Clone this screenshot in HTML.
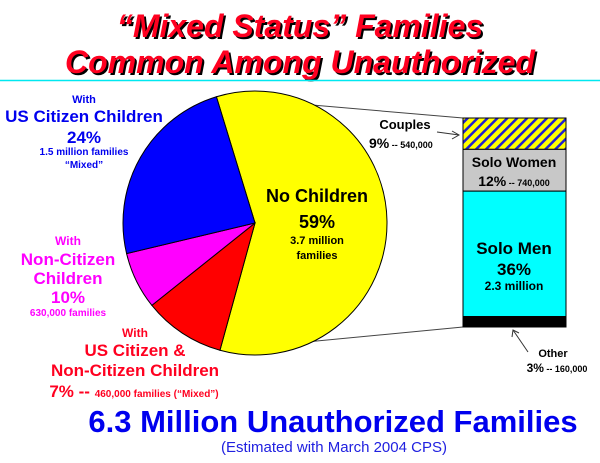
<!DOCTYPE html>
<html><head><meta charset="utf-8"><style>
body{margin:0;background:#fff}
svg{display:block;font-family:"Liberation Sans",Arial,sans-serif;font-weight:bold}
</style></head><body>
<svg width="600" height="463" viewBox="0 0 600 463">
<defs>
<pattern id="hatch" width="7" height="7" patternUnits="userSpaceOnUse" patternTransform="rotate(45)">
<rect width="7" height="7" fill="#ffff00"/><rect width="2.5" height="7" fill="#2020d0"/>
</pattern>
</defs>
<g font-style="italic" font-size="32" text-anchor="middle">
<text x="302" y="39" fill="#000">“Mixed Status” Families</text>
<text x="300" y="37" fill="#ff0020">“Mixed Status” Families</text>
<text x="302" y="75" fill="#000">Common Among Unauthorized</text>
<text x="300" y="73" fill="#ff0020">Common Among Unauthorized</text>
</g>
<line x1="0" y1="80.5" x2="600" y2="80.5" stroke="#00e8f0" stroke-width="1.5"/>
<g id="connectors"></g>
<g id="pie"></g>
<g id="bar"></g>
<g text-anchor="middle">
<g fill="#0000ee">
<text x="84" y="103" font-size="11">With</text>
<text x="84" y="122" font-size="17">US Citizen Children</text>
<text x="84" y="143" font-size="17">24%</text>
<text x="84" y="155" font-size="10">1.5 million families</text>
<text x="84" y="168" font-size="10">“Mixed”</text>
</g>
<g fill="#ff00ff">
<text x="68" y="245" font-size="12">With</text>
<text x="68" y="265" font-size="17">Non-Citizen</text>
<text x="68" y="284" font-size="17">Children</text>
<text x="68" y="303" font-size="17">10%</text>
<text x="68" y="316" font-size="10">630,000 families</text>
</g>
<g fill="#ff0020">
<text x="135" y="337" font-size="12">With</text>
<text x="135" y="356" font-size="17">US Citizen &amp;</text>
<text x="135" y="376" font-size="17">Non-Citizen Children</text>
<text x="134" y="397"><tspan font-size="17">7% -- </tspan><tspan font-size="10">460,000 families (“Mixed”)</tspan></text>
</g>
<g fill="#000">
<text x="317" y="202" font-size="18">No Children</text>
<text x="317" y="228" font-size="18">59%</text>
<text x="317" y="244" font-size="11">3.7 million</text>
<text x="317" y="259" font-size="11">families</text>
</g>
</g>
<g fill="#000">
<text x="405" y="129" font-size="13" text-anchor="middle">Couples</text>
<text x="369" y="148"><tspan font-size="14">9%</tspan><tspan font-size="9"> -- 540,000</tspan></text>
<line x1="437" y1="132" x2="459" y2="135" stroke="#333"/>
<path d="M452,131 L459,135 L452,139" fill="none" stroke="#333"/>
<text x="514" y="167" font-size="14" text-anchor="middle">Solo Women</text>
<text x="514" y="186" text-anchor="middle"><tspan font-size="14">12%</tspan><tspan font-size="9"> -- 740,000</tspan></text>
<text x="514" y="254" font-size="17" text-anchor="middle">Solo Men</text>
<text x="514" y="275" font-size="17" text-anchor="middle">36%</text>
<text x="514" y="290" font-size="12" text-anchor="middle">2.3 million</text>
<line x1="528" y1="352" x2="513" y2="330" stroke="#333"/>
<path d="M512,337 L513,330 L519,333" fill="none" stroke="#333"/>
<text x="553" y="357" font-size="11" text-anchor="middle">Other</text>
<text x="557" y="372" text-anchor="middle"><tspan font-size="12">3%</tspan><tspan font-size="9"> -- 160,000</tspan></text>
</g>
<text x="333" y="432" font-size="31" fill="#0000ee" text-anchor="middle">6.3 Million Unauthorized Families</text>
<text x="334" y="452" font-size="15" font-weight="normal" fill="#2020e0" text-anchor="middle">(Estimated with March 2004 CPS)</text>
</svg>
<script>
const pieCategories = ["No Children", "US Citizen & Non-Citizen Children", "Non-Citizen Children", "US Citizen Children"];
const pieValues = [59, 10, 7, 24];
const pieColors = ["#ffff00", "#ff0000", "#ff00ff", "#0000ff"];
const barCategories = ["Couples", "Solo Women", "Solo Men", "Other"];
const barValues = [9, 12, 36, 3];
const barFills = ["url(#hatch)", "#c8c8c8", "#00ffff", "#000000"];

const NS = "http://www.w3.org/2000/svg";
const cx = 255, cy = 223, r = 132, startDeg = -17;
const pieG = document.getElementById('pie');
const total = pieValues.reduce((a, b) => a + b, 0);
function pt(deg) { const a = deg * Math.PI / 180; return [cx + r * Math.sin(a), cy - r * Math.cos(a)]; }
let ang = startDeg;
const yellowEnds = [];
pieValues.forEach((v, i) => {
  const span = v / total * 360;
  const p0 = pt(ang), p1 = pt(ang + span);
  if (i === 0) { yellowEnds.push(p0, p1); }
  const path = document.createElementNS(NS, 'path');
  path.setAttribute('d', `M${cx},${cy} L${p0[0]},${p0[1]} A${r},${r} 0 ${span > 180 ? 1 : 0} 1 ${p1[0]},${p1[1]} Z`);
  path.setAttribute('fill', pieColors[i]);
  path.setAttribute('stroke', '#000');
  path.setAttribute('stroke-width', '1');
  
  
  pieG.appendChild(path);
  ang += span;
});

const barX = 463, barW = 103, barTop = 118, barH = 209;
const barTotal = barValues.reduce((a, b) => a + b, 0);
const yScale = v => v / barTotal * barH;
const barG = document.getElementById('bar');
let y = barTop;
barValues.forEach((v, i) => {
  const h = yScale(v);
  const rect = document.createElementNS(NS, 'rect');
  rect.setAttribute('x', barX); rect.setAttribute('y', y);
  rect.setAttribute('width', barW); rect.setAttribute('height', h);
  rect.setAttribute('fill', barFills[i]);
  rect.setAttribute('stroke', '#000');
  
  
  barG.appendChild(rect);
  y += h;
});

const conG = document.getElementById('connectors');
[[yellowEnds[0], [barX, barTop]], [yellowEnds[1], [barX, barTop + barH]]].forEach(([a, b], i) => {
  const l = document.createElementNS(NS, 'line');
  l.setAttribute('x1', a[0]); l.setAttribute('y1', a[1]);
  l.setAttribute('x2', b[0]); l.setAttribute('y2', b[1]);
  l.setAttribute('stroke', '#444');
  
  
  conG.appendChild(l);
});
</script>
</body></html>
